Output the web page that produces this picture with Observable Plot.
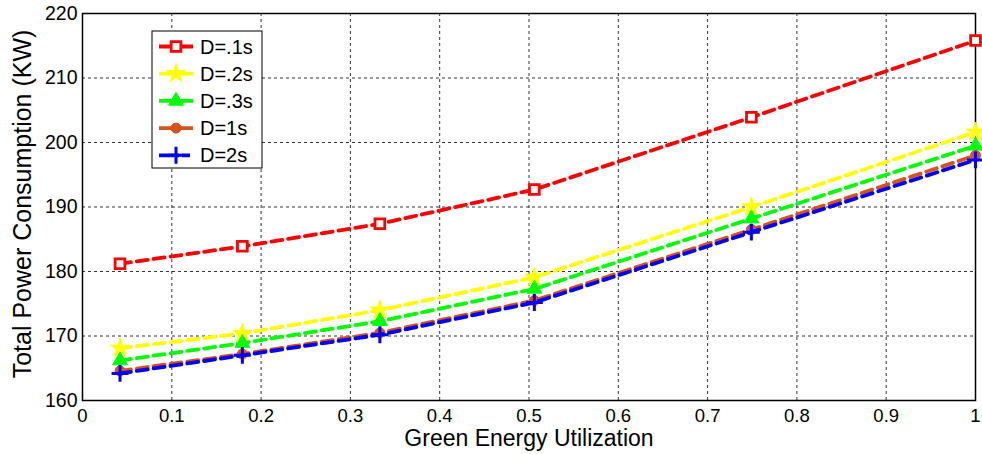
<!DOCTYPE html>
<html><head><meta charset="utf-8">
<script src="https://cdn.jsdelivr.net/npm/d3@7"></script>
<script src="https://cdn.jsdelivr.net/npm/@observablehq/plot@0.6"></script>
<style>
body{margin:0;background:#fff;font-family:"Liberation Sans",Arial,sans-serif}
#wrap{position:relative;width:982px;height:454px}
</style>
</head><body><div id="wrap"></div>
<script>
const xValues = [0.042, 0.179, 0.333, 0.506, 0.749, 1.0];
const seriesNames = ["D=.1s", "D=.2s", "D=.3s", "D=1s", "D=2s"];
const d01 = [181.2, 183.9, 187.4, 192.7, 203.9, 215.8];
const d02 = [168.1, 170.4, 174.0, 179.1, 190.0, 201.6];
const d03 = [166.2, 168.9, 172.3, 177.3, 188.2, 199.5];
const d1  = [164.6, 167.2, 170.5, 175.5, 186.5, 198.0];
const d2  = [164.2, 167.0, 170.2, 175.2, 186.1, 197.3];
const seriesValues = [d01, d02, d03, d1, d2];
const colors = ["#ff0000", "#ffff00", "#00ff00", "#d95319", "#0000ff"];
const symbols = ["square", "star", "triangle", "circle", "plus"];
const xTicks = [0, 0.1, 0.2, 0.3, 0.4, 0.5, 0.6, 0.7, 0.8, 0.9, 1];
const yTicks = [160, 170, 180, 190, 200, 210, 220];
const xLabel = "Green Energy Utilization";
const yLabel = "Total Power Consumption (KW)";

const rows = [];
seriesNames.forEach((s, i) => xValues.forEach((x, j) => rows.push({series: s, x, y: seriesValues[i][j]})));

const markStyle = {
  "D=.1s": {r: 5.5, fill: "white", stroke: "#ff0000", strokeWidth: 2.8},
  "D=.2s": {r: 6, fill: "#ffff00", stroke: "#ffff00", strokeWidth: 1},
  "D=.3s": {r: 5.5, fill: "#00ff00", stroke: "#00ff00", strokeWidth: 1},
  "D=1s":  {r: 5, fill: "#d95319", stroke: "#d95319", strokeWidth: 1},
  "D=2s":  {r: 5.5, fill: "none", stroke: "#0000ff", strokeWidth: 3}
};

const marks = [
  Plot.gridX(xTicks, {stroke: "black", strokeOpacity: 1, strokeWidth: 0.8, strokeDasharray: "3,3"}),
  Plot.gridY(yTicks, {stroke: "black", strokeOpacity: 1, strokeWidth: 0.8, strokeDasharray: "3,3"}),
  Plot.axisX(xTicks, {tickSize: 0, tickPadding: 8, fontSize: 18.5, label: null, tickFormat: d => String(d)}),
  Plot.axisY(yTicks, {tickSize: 0, tickPadding: 5, fontSize: 19.5, label: null}),
  Plot.frame({stroke: "black", strokeWidth: 1.5}),
  Plot.text([xLabel], {frameAnchor: "bottom", textAnchor: "middle", lineAnchor: "middle", dy: 38.5, fontSize: 23, fill: "black"}),
  Plot.text([yLabel], {frameAnchor: "left", textAnchor: "middle", lineAnchor: "middle", rotate: -90, dx: -60, dy: -3, fontSize: 25, fill: "black"})
];
seriesNames.forEach((s, i) => {
  const data = rows.filter(d => d.series === s);
  marks.push(Plot.line(data, {x: "x", y: "y", stroke: colors[i], strokeWidth: 3.8, strokeDasharray: "11,6"}));
  const st = markStyle[s];
  marks.push(Plot.dot(data, {x: "x", y: "y", symbol: () => symbols[i], r: st.r, fill: st.fill, stroke: st.stroke, strokeWidth: st.strokeWidth}));
});

const chart = Plot.plot({
  width: 982, height: 454,
  marginLeft: 82, marginRight: 7, marginTop: 13, marginBottom: 54,
  style: {fontFamily: '"Liberation Sans", Arial, sans-serif', color: "black", background: "white"},
  x: {domain: [0, 1], axis: null},
  y: {domain: [160, 220], axis: null},
  symbol: {domain: symbols, range: symbols},
  marks
});
document.getElementById("wrap").appendChild(chart);

// legend inside plot area
const svg = d3.select(chart);
const lg = svg.append("g").attr("transform", "translate(152,31)");
lg.append("rect").attr("width", 110).attr("height", 137).attr("fill", "white").attr("stroke", "black").attr("stroke-width", 1);
const symMap = {square: d3.symbolSquare, star: d3.symbolStar, triangle: d3.symbolTriangle, circle: d3.symbolCircle, plus: d3.symbolPlus};
seriesNames.forEach((s, i) => {
  const yy = 15.5 + i * 27.2;
  const g = lg.append("g").attr("transform", `translate(0,${yy})`);
  g.append("line").attr("x1", 7).attr("x2", 41).attr("y1", 0).attr("y2", 0)
    .attr("stroke", colors[i]).attr("stroke-width", 3.8).attr("stroke-dasharray", i === 4 ? "20,3,8" : null);
  const st = markStyle[s];
  g.append("path").attr("transform", "translate(24,0)")
    .attr("d", d3.symbol(symMap[symbols[i]], Math.PI * st.r * st.r)())
    .attr("fill", st.fill).attr("stroke", st.stroke).attr("stroke-width", st.strokeWidth);
  g.append("text").attr("x", 48).attr("y", 0).attr("dy", "0.35em").attr("text-anchor", "start")
    .attr("font-size", 20).attr("fill", "black").text(s);
});
</script>
</body></html>
